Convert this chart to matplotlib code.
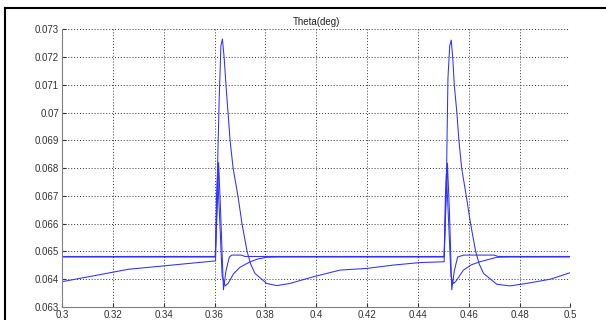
import matplotlib
matplotlib.use('Agg')
import matplotlib.pyplot as plt
from matplotlib.lines import Line2D

plt.rcParams['font.family'] = ['Liberation Sans', 'DejaVu Sans']

# Serie 1: referencia con pico estrecho
ref_t = [0.3, 0.3603, 0.3610, 0.3616, 0.3624, 0.3635, 0.3645, 0.3658, 0.3668, 0.3705, 0.3720,
         0.4503, 0.4509, 0.4516, 0.4524, 0.4533, 0.4543, 0.4556, 0.4580, 0.4700, 0.4715, 0.5]
ref_y = [0.06482, 0.06482, 0.0664, 0.0682, 0.0664, 0.06362, 0.0643, 0.06480, 0.06487, 0.06487, 0.06482,
         0.06482, 0.0664, 0.06818, 0.0664, 0.06362, 0.0643, 0.06480, 0.06487, 0.06487, 0.06482, 0.06482]

# Serie 2: respuesta rapida
fast_t = [0.3, 0.3603, 0.3608, 0.3612, 0.3620, 0.3630, 0.3642, 0.3654, 0.3675, 0.3700, 0.3740, 0.3770, 0.3805, 0.3850,
          0.4503, 0.4508, 0.4512, 0.4520, 0.4530, 0.4540, 0.4548, 0.4579, 0.4610, 0.4644, 0.4710, 0.4760, 0.5]
fast_y = [0.06480, 0.06480, 0.0670, 0.0678, 0.0662, 0.0641, 0.06376, 0.06386, 0.06420, 0.06443, 0.06463, 0.06473, 0.06479, 0.06480,
          0.06480, 0.0670, 0.0678, 0.0662, 0.0641, 0.06385, 0.06391, 0.06433, 0.06452, 0.06463, 0.06479, 0.06480, 0.06480]

# Serie 3: respuesta con sobrepico grande
slow_t = [0.3, 0.3262, 0.3400, 0.3500, 0.3604, 0.3612, 0.3618, 0.3625, 0.3631, 0.3638, 0.3645, 0.3653,
          0.3661, 0.3673, 0.3692, 0.3708, 0.3728, 0.3742, 0.3759, 0.3805, 0.3845, 0.3897, 0.3989, 0.4094, 0.4199, 0.4303,
          0.4408, 0.4503, 0.4513, 0.4518, 0.4525, 0.4531, 0.4537, 0.4543, 0.4553, 0.4561, 0.4572, 0.4590, 0.4607, 0.4627,
          0.4641, 0.4658, 0.4710, 0.4762, 0.4828, 0.4920, 0.5]
slow_y = [0.06391, 0.06436, 0.06448, 0.06457, 0.06466, 0.06811, 0.0704, 0.0724, 0.07265, 0.07196, 0.07099, 0.07001,
          0.06901, 0.0680, 0.0670, 0.0660, 0.0650, 0.06455, 0.06421, 0.06385, 0.06377, 0.06385, 0.06409, 0.06433, 0.06439, 0.06451,
          0.06460, 0.06463, 0.06811, 0.07124, 0.0724, 0.07261, 0.07196, 0.07099, 0.07001, 0.06901, 0.0680, 0.0670, 0.0660, 0.0650,
          0.06455, 0.06421, 0.06382, 0.06376, 0.06385, 0.06400, 0.06424]

x_ticks = [0.3, 0.32, 0.34, 0.36, 0.38, 0.4, 0.42, 0.44, 0.46, 0.48, 0.5]
x_labels = ['0.3', '0.32', '0.34', '0.36', '0.38', '0.4', '0.42', '0.44', '0.46', '0.48', '0.5']
y_ticks = [0.063, 0.064, 0.065, 0.066, 0.067, 0.068, 0.069, 0.07, 0.071, 0.072, 0.073]
y_labels = ['0.063', '0.064', '0.065', '0.066', '0.067', '0.068', '0.069', '0.07', '0.071', '0.072', '0.073']

fig = plt.figure(figsize=(6.06, 3.2), dpi=100)
ax = fig.add_axes([0.1023, 0.0406, 0.8391, 0.8678])

for t, y in [(ref_t, ref_y), (fast_t, fast_y), (slow_t, slow_y)]:
    ax.plot(t, y, color='#3030ff', linewidth=0.75)

ax.set_xlim(0.3, 0.5)
ax.set_ylim(0.063, 0.073)
ax.set_xticks(x_ticks)
ax.set_xticklabels(x_labels)
ax.set_yticks(y_ticks)
ax.set_yticklabels(y_labels)
ax.tick_params(direction='in', length=3, labelsize=7, colors='#333333', pad=2)
ax.grid(True, color='#333333', linestyle=(0, (1, 2)), linewidth=0.7)
ax.spines['top'].set_visible(False)
ax.spines['right'].set_visible(False)
ax.spines['left'].set_color('#808080')
ax.spines['bottom'].set_color('#808080')
ax.set_title('Theta(deg)', fontsize=7, pad=3, color='#222222')

# marco negro de la ventana
fig.add_artist(Line2D([5 / 606, 1], [1 - 8 / 320, 1 - 8 / 320], color='black', linewidth=1.5))
fig.add_artist(Line2D([5 / 606, 5 / 606], [0, 1 - 8 / 320], color='black', linewidth=1.5))

fig.savefig('out.png', dpi=100)
